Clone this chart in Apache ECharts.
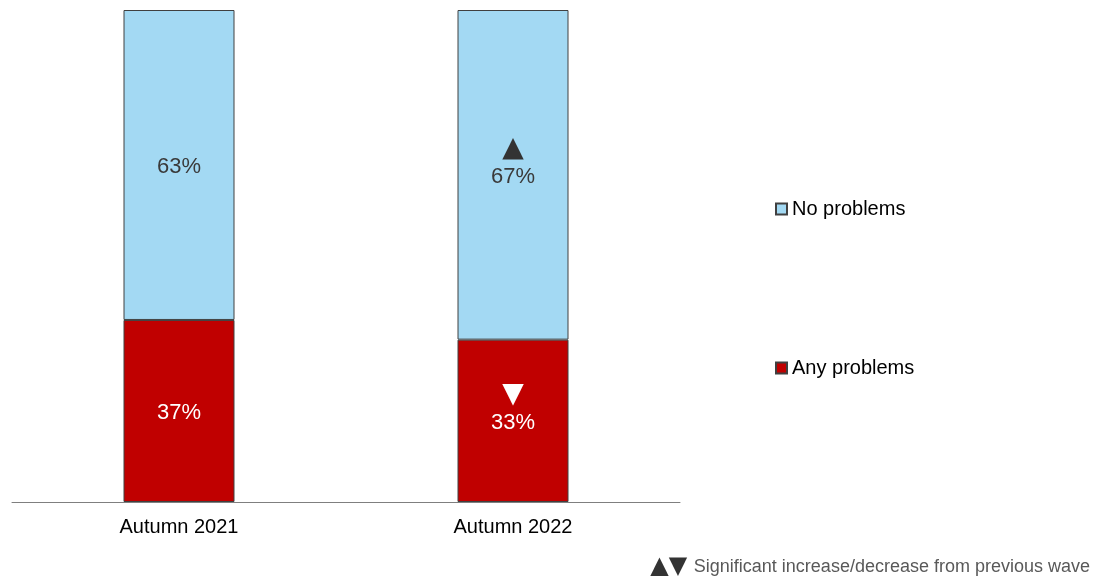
<!DOCTYPE html>
<html>
<head>
<meta charset="utf-8">
<script src="https://cdn.jsdelivr.net/npm/echarts@6/dist/echarts.min.js"></script>
<style>
  html, body { margin: 0; padding: 0; background: #fff; }
  #chart { width: 1105px; height: 576px; }
</style>
</head>
<body>
<div id="chart"></div>
<script>
// Survey waves and share of respondents (%)
const categories = ['Autumn 2021', 'Autumn 2022'];
const anyProblems = [37, 33];
const noProblems = [63, 67];
// Significance markers vs previous wave: 'up', 'down' or null
const anyProblemsSig = [null, 'down'];
const noProblemsSig = [null, 'up'];

const FONT = 'Liberation Sans, Arial, sans-serif';

function buildData(values, sig) {
  return values.map((v, i) => {
    const item = { value: v };
    if (sig[i]) {
      // keep the percentage centred; the marker sits above it
      item.label = { offset: [0, -13] };
    }
    return item;
  });
}

function labelFormatter(sig) {
  return function (p) {
    const s = sig[p.dataIndex];
    const txt = '{val|' + p.value + '%}';
    if (s === 'up') return '{tri|▲}\n' + txt;
    if (s === 'down') return '{tri|▼}\n' + txt;
    return txt;
  };
}

const chart = echarts.init(document.getElementById('chart'));
chart.setOption({
  animation: false,
  grid: { left: 12, right: 425, top: 10, bottom: 74, containLabel: false },
  xAxis: {
    type: 'category',
    data: categories,
    axisTick: { show: false },
    axisLine: { lineStyle: { color: '#7f7f7f', width: 1 } },
    axisLabel: { color: '#000', fontFamily: FONT, fontSize: 20, margin: 15 }
  },
  yAxis: {
    type: 'value',
    min: 0,
    max: 100,
    show: false,
    splitLine: { show: false }
  },
  legend: {
    orient: 'vertical',
    left: 770,
    top: 194,
    itemGap: 139,
    itemWidth: 11,
    itemHeight: 11,
    icon: 'rect',
    data: ['No problems', 'Any problems'],
    textStyle: { color: '#000', fontFamily: FONT, fontSize: 20 }
  },
  series: [
    {
      name: 'Any problems',
      type: 'bar',
      stack: 'total',
      barWidth: 111,
      data: buildData(anyProblems, anyProblemsSig),
      itemStyle: { color: '#C00000', borderColor: '#404040', borderWidth: 1 },
      label: {
        show: true,
        position: 'inside',
        offset: [0, 2],
        formatter: labelFormatter(anyProblemsSig),
        rich: {
          val: { color: '#fff', fontFamily: FONT, fontSize: 22, lineHeight: 27 },
          tri: { color: '#fff', fontFamily: 'DejaVu Sans', fontSize: 28, lineHeight: 30 }
        }
      }
    },
    {
      name: 'No problems',
      type: 'bar',
      stack: 'total',
      barWidth: 111,
      data: buildData(noProblems, noProblemsSig),
      itemStyle: { color: '#A3D9F3', borderColor: '#404040', borderWidth: 1 },
      label: {
        show: true,
        position: 'inside',
        offset: [0, 2],
        formatter: labelFormatter(noProblemsSig),
        rich: {
          val: { color: '#3a3a3a', fontFamily: FONT, fontSize: 22, lineHeight: 27 },
          tri: { color: '#333', fontFamily: 'DejaVu Sans', fontSize: 28, lineHeight: 30 }
        }
      }
    }
  ],
  graphic: [
    {
      type: 'text',
      right: 15,
      top: 555,
      style: {
        text: '{tri|▲▼}  {txt|Significant increase/decrease from previous wave}',
        rich: {
          tri: { fill: '#333', fontFamily: 'DejaVu Sans', fontSize: 24 },
          txt: { fill: '#595959', fontFamily: FONT, fontSize: 18 }
        }
      }
    }
  ]
});
</script>
</body>
</html>
